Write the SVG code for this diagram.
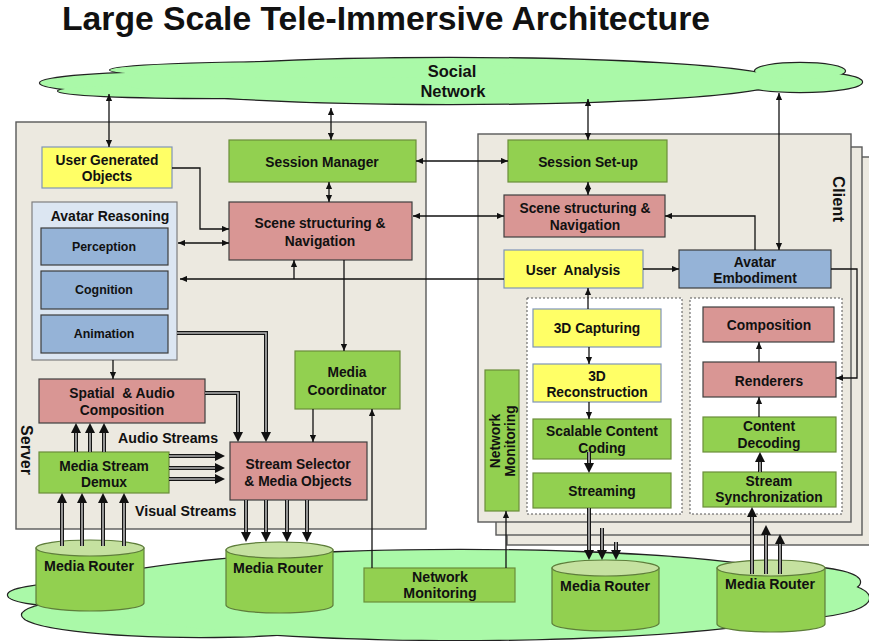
<svg xmlns="http://www.w3.org/2000/svg" width="869" height="641" viewBox="0 0 869 641">
  <style>
    text { font-family: "Liberation Sans", Arial, sans-serif; font-weight: bold; fill: #111; }
    .t { font-size: 13.8px; text-anchor: middle; }
    .ts { font-size: 12.4px; text-anchor: middle; }
    .tl { font-size: 14.2px; }
    .green { fill: #92d050; stroke: #6b8e3a; stroke-width: 1.2; }
    .pink { fill: #d99694; stroke: #3f3f3f; stroke-width: 1.2; }
    .yellow { fill: #ffff66; stroke: #7f95b8; stroke-width: 1.2; }
    .blue { fill: #95b3d7; stroke: #3c3c3c; stroke-width: 1.2; }
    .frame { fill: #ece9e0; stroke: #595959; stroke-width: 1.4; }
    .dash { fill: #ffffff; stroke: #555; stroke-width: 1; stroke-dasharray: 2 2; }
    .cloud-s { fill: none; stroke: #222; stroke-width: 2.4; }
    .cloud-f { fill: #aaf9a8; stroke: none; }
    .cyl { fill: #92d050; stroke: #5e7d3b; stroke-width: 1.2; }
    .cyltop { fill: #c5e1a0; stroke: #5e7d3b; stroke-width: 1.2; }
    .ln { fill: none; stroke: #111; stroke-width: 1.3; }
    .a1 { marker-end: url(#ah); }
    .a2 { marker-start: url(#ah); marker-end: url(#ah); }
    .dout { fill: none; stroke: #151515; stroke-width: 4; marker-end: url(#bh); }
    .din { fill: none; stroke: #b4b4b4; stroke-width: 1.6; }
  </style>
  <defs>
    <marker id="ah" viewBox="0 0 7 7" refX="7" refY="3.5" markerWidth="7" markerHeight="7" markerUnits="userSpaceOnUse" orient="auto-start-reverse">
      <path d="M0,0.4 L7,3.5 L0,6.6 z" fill="#111"/>
    </marker>
    <marker id="bh" viewBox="0 0 10 10" refX="0" refY="5" markerWidth="10" markerHeight="10" markerUnits="userSpaceOnUse" orient="auto">
      <path d="M0,0 L10,5 L0,10 z" fill="#111"/>
    </marker>
  </defs>

  <rect width="869" height="641" fill="#ffffff"/>

  <!-- title -->
  <text x="62" y="30" font-size="33" textLength="648" lengthAdjust="spacingAndGlyphs">Large Scale Tele-Immersive Architecture</text>

  <!-- social network cloud -->
  <g id="social-network">
    <g class="cloud-s">
      <ellipse cx="190" cy="83" rx="150" ry="11"/>
      <ellipse cx="215" cy="91" rx="157" ry="7"/>
      <ellipse cx="450" cy="81" rx="330" ry="23"/>
      <ellipse cx="320" cy="70" rx="210" ry="8"/>
      <ellipse cx="800" cy="82" rx="62" ry="10"/>
      <ellipse cx="800" cy="71" rx="45" ry="8"/>
    </g>
    <g class="cloud-f">
      <ellipse cx="190" cy="83" rx="150" ry="11"/>
      <ellipse cx="215" cy="91" rx="157" ry="7"/>
      <ellipse cx="450" cy="81" rx="330" ry="23"/>
      <ellipse cx="320" cy="70" rx="210" ry="8"/>
      <ellipse cx="800" cy="82" rx="62" ry="10"/>
      <ellipse cx="800" cy="71" rx="45" ry="8"/>
    </g>
    <text x="452" y="77" font-size="16.5" text-anchor="middle">Social</text>
    <text x="453" y="97" font-size="16.5" text-anchor="middle">Network</text>
  </g>

  <!-- media transport cloud -->
  <g id="transport-cloud">
    <g class="cloud-s">
      <ellipse cx="70" cy="595" rx="62" ry="11"/>
      <ellipse cx="200" cy="615" rx="178" ry="22"/>
      <ellipse cx="460" cy="595" rx="390" ry="45"/>
      <ellipse cx="790" cy="598" rx="79" ry="20"/>
      <ellipse cx="800" cy="582" rx="60" ry="15"/>
    </g>
    <g class="cloud-f">
      <ellipse cx="70" cy="595" rx="62" ry="11"/>
      <ellipse cx="200" cy="615" rx="178" ry="22"/>
      <ellipse cx="460" cy="595" rx="390" ry="45"/>
      <ellipse cx="790" cy="598" rx="79" ry="20"/>
      <ellipse cx="800" cy="582" rx="60" ry="15"/>
    </g>
  </g>

  <!-- server frame -->
  <g id="server">
    <rect class="frame" x="16" y="122" width="410" height="407"/>
    <text transform="translate(21,450) rotate(90)" font-size="16" text-anchor="middle">Server</text>
  </g>

  <!-- stacked client frames -->
  <g id="client">
    <rect class="frame" x="507" y="157" width="368" height="388"/>
    <rect class="frame" x="496" y="147" width="366" height="388"/>
    <rect class="frame" x="478" y="134" width="373" height="388"/>
    <text transform="translate(833,199) rotate(90)" font-size="16.5" text-anchor="middle">Client</text>
  </g>

  <!-- server nodes -->
  <g id="user-generated-objects">
    <rect class="yellow" x="42" y="147" width="130" height="41"/>
    <text class="t" x="107" y="165">User Generated</text>
    <text class="t" x="107" y="181">Objects</text>
  </g>
  <g id="session-manager">
    <rect class="green" x="229" y="140" width="187" height="42"/>
    <text class="t" x="322" y="167">Session Manager</text>
  </g>
  <g id="server-scene">
    <rect class="pink" x="229" y="202" width="183" height="58"/>
    <text class="t" x="320" y="228">Scene structuring &amp;</text>
    <text class="t" x="320" y="246">Navigation</text>
  </g>
  <g id="avatar-reasoning">
    <rect x="32" y="202" width="145" height="158" fill="#dce6f2" stroke="#7f7f7f" stroke-width="1.2"/>
    <text x="110" y="221" font-size="14" text-anchor="middle">Avatar Reasoning</text>
  </g>
  <g id="perception">
    <rect class="blue" x="41" y="228" width="127" height="37"/>
    <text class="ts" x="104" y="251">Perception</text>
  </g>
  <g id="cognition">
    <rect class="blue" x="41" y="271" width="127" height="38"/>
    <text class="ts" x="104" y="294">Cognition</text>
  </g>
  <g id="animation">
    <rect class="blue" x="41" y="315" width="127" height="38"/>
    <text class="ts" x="104" y="338">Animation</text>
  </g>
  <g id="media-coordinator">
    <rect class="green" x="295" y="351" width="105" height="58"/>
    <text class="t" x="347" y="377">Media</text>
    <text class="t" x="347" y="395">Coordinator</text>
  </g>
  <g id="spatial-audio">
    <rect class="pink" x="39" y="379" width="166" height="44"/>
    <text class="t" x="122" y="398" xml:space="preserve">Spatial  &amp; Audio</text>
    <text class="t" x="122" y="415">Composition</text>
  </g>
  <g id="demux">
    <rect class="green" x="39" y="452" width="130" height="41"/>
    <text class="t" x="104" y="471">Media Stream</text>
    <text class="t" x="104" y="487">Demux</text>
  </g>
  <g id="stream-selector">
    <rect class="pink" x="230" y="442" width="137" height="58"/>
    <text class="t" x="298" y="469">Stream Selector</text>
    <text class="t" x="298" y="486">&amp; Media Objects</text>
  </g>
  <text class="tl" x="118" y="443">Audio Streams</text>
  <text class="tl" x="135" y="516">Visual Streams</text>

  <!-- client nodes -->
  <g id="session-setup">
    <rect class="green" x="508" y="140" width="159" height="42"/>
    <text class="t" x="588" y="167">Session Set-up</text>
  </g>
  <g id="client-scene">
    <rect class="pink" x="504" y="195" width="161" height="42"/>
    <text class="t" x="585" y="213">Scene structuring &amp;</text>
    <text class="t" x="585" y="230">Navigation</text>
  </g>
  <g id="user-analysis">
    <rect class="yellow" x="504" y="250" width="139" height="38"/>
    <text class="t" x="573" y="275" xml:space="preserve">User  Analysis</text>
  </g>
  <g id="avatar-embodiment">
    <rect class="blue" x="679" y="250" width="152" height="38"/>
    <text class="t" x="755" y="267">Avatar</text>
    <text class="t" x="755" y="283">Embodiment</text>
  </g>
  <g id="capture-pipeline">
    <rect class="dash" x="527" y="298" width="155" height="216"/>
  </g>
  <g id="render-pipeline">
    <rect class="dash" x="690" y="298" width="152" height="216"/>
  </g>
  <g id="capturing">
    <rect class="yellow" x="533" y="309" width="128" height="38"/>
    <text class="t" x="597" y="333">3D Capturing</text>
  </g>
  <g id="reconstruction">
    <rect class="yellow" x="533" y="364" width="128" height="38"/>
    <text class="t" x="597" y="381">3D</text>
    <text class="t" x="597" y="397">Reconstruction</text>
  </g>
  <g id="scalable-coding">
    <rect class="green" x="533" y="419" width="138" height="40"/>
    <text class="t" x="602" y="436">Scalable Content</text>
    <text class="t" x="602" y="453">Coding</text>
  </g>
  <g id="streaming">
    <rect class="green" x="533" y="473" width="138" height="35"/>
    <text class="t" x="602" y="496">Streaming</text>
  </g>
  <g id="composition">
    <rect class="pink" x="703" y="307" width="131" height="35"/>
    <text class="t" x="769" y="330">Composition</text>
  </g>
  <g id="renderers">
    <rect class="pink" x="703" y="362" width="133" height="35"/>
    <text class="t" x="769" y="386">Renderers</text>
  </g>
  <g id="content-decoding">
    <rect class="green" x="703" y="417" width="133" height="35"/>
    <text class="t" x="769" y="431">Content</text>
    <text class="t" x="769" y="448">Decoding</text>
  </g>
  <g id="stream-sync">
    <rect class="green" x="703" y="472" width="133" height="35"/>
    <text class="t" x="769" y="486">Stream</text>
    <text class="t" x="769" y="502">Synchronization</text>
  </g>
  <g id="client-network-monitoring">
    <rect class="green" x="485" y="370" width="34" height="141"/>
    <text class="t" transform="translate(500,441) rotate(-90)">Network</text>
    <text class="t" transform="translate(515,441) rotate(-90)">Monitoring</text>
  </g>

  <!-- media routers and network monitoring -->
  <g id="router-1">
    <path class="cyl" d="M36,548 V603 A54,8 0 0 0 144,603 V548 z"/>
    <ellipse class="cyltop" cx="90" cy="548" rx="54" ry="8"/>
    <text class="tl" x="89" y="571" text-anchor="middle">Media Router</text>
  </g>
  <g id="router-2">
    <path class="cyl" d="M226,550 V605 A53.5,8 0 0 0 333,605 V550 z"/>
    <ellipse class="cyltop" cx="279.5" cy="550" rx="53.5" ry="8"/>
    <text class="tl" x="278" y="573" text-anchor="middle">Media Router</text>
  </g>
  <g id="router-3">
    <path class="cyl" d="M552,568 V623 A53.5,8 0 0 0 659,623 V568 z"/>
    <ellipse class="cyltop" cx="605.5" cy="568" rx="53.5" ry="8"/>
    <text class="tl" x="605" y="591" text-anchor="middle">Media Router</text>
  </g>
  <g id="router-4">
    <path class="cyl" d="M717,568 V624 A54,8 0 0 0 825,624 V568 z"/>
    <ellipse class="cyltop" cx="771" cy="568" rx="54" ry="8"/>
    <text class="tl" x="770" y="589" text-anchor="middle">Media Router</text>
  </g>
  <g id="network-monitoring">
    <rect class="green" x="364" y="568" width="151" height="34"/>
    <text class="tl" x="440" y="582" text-anchor="middle">Network</text>
    <text class="tl" x="440" y="598" text-anchor="middle">Monitoring</text>
  </g>

  <!-- connectors -->
  <g id="connectors">
    <g class="ln">
      <path class="a2" d="M109,94 V147"/>
      <path class="a2" d="M331,108 V140"/>
      <path class="a2" d="M588,99 V140"/>
      <path class="a2" d="M779,93 V250"/>
      <path class="a2" d="M416,161 H508"/>
      <path class="a2" d="M329,182 V202"/>
      <path class="a2" d="M588,182 V195"/>
      <path class="a2" d="M413,216 H504"/>
      <path class="a1" d="M172,168 H200 V229 H229"/>
      <path class="a2" d="M178,243 H229"/>
      <path class="a1" d="M504,279 H180"/>
      <path class="a1" d="M294,279 V260"/>
      <path class="a1" d="M344,260 V351"/>
      <path class="a1" d="M113,360 V379"/>
      <path class="a1" d="M313,409 V442"/>
      <path class="a1" d="M372,568 V409"/>
      <path class="a1" d="M506,568 V511"/>
      <path class="a1" d="M759,417 V397"/>
      <path class="a1" d="M759,362 V342"/>
      <path class="a1" d="M831,269 H857 V378 H836"/>
      <path class="a1" d="M755,250 V216 H665"/>
      <path class="a1" d="M643,269 H679"/>
      <path class="a1" d="M588,309 V288"/>
      <path class="a1" d="M589,347 V364"/>
      <path class="a1" d="M589,402 V419"/>
    </g>
    <!-- doubled stream lines -->
    <g class="dout">
      <path d="M76,452 V433"/><path d="M90,452 V433"/><path d="M104,452 V433"/>
      <path d="M169,456 H215"/><path d="M169,468 H215"/><path d="M169,479 H215"/>
      <path d="M62,546 V503"/><path d="M82,546 V503"/><path d="M103,546 V503"/><path d="M124,546 V503"/>
      <path d="M246,500 V532"/><path d="M266,500 V532"/><path d="M287,500 V532"/><path d="M307,500 V532"/>
      <path d="M177,333 H266 V432"/>
      <path d="M205,393 H238 V432"/>
      <path d="M589,508 V550"/><path d="M602,528 V550"/><path d="M616,542 V550"/>
      <path d="M589,452 V463"/>
      <path d="M752,574 V517"/><path d="M766,574 V535"/><path d="M780,574 V544"/>
      <path d="M760,472 V462"/>
    </g>
    <g class="din">
      <path d="M76,452 V433"/><path d="M90,452 V433"/><path d="M104,452 V433"/>
      <path d="M169,456 H215"/><path d="M169,468 H215"/><path d="M169,479 H215"/>
      <path d="M62,546 V503"/><path d="M82,546 V503"/><path d="M103,546 V503"/><path d="M124,546 V503"/>
      <path d="M246,500 V532"/><path d="M266,500 V532"/><path d="M287,500 V532"/><path d="M307,500 V532"/>
      <path d="M177,333 H266 V432"/>
      <path d="M205,393 H238 V432"/>
      <path d="M589,508 V550"/><path d="M602,528 V550"/><path d="M616,542 V550"/>
      <path d="M589,452 V463"/>
      <path d="M752,574 V517"/><path d="M766,574 V535"/><path d="M780,574 V544"/>
      <path d="M760,472 V462"/>
    </g>
  </g>
</svg>
